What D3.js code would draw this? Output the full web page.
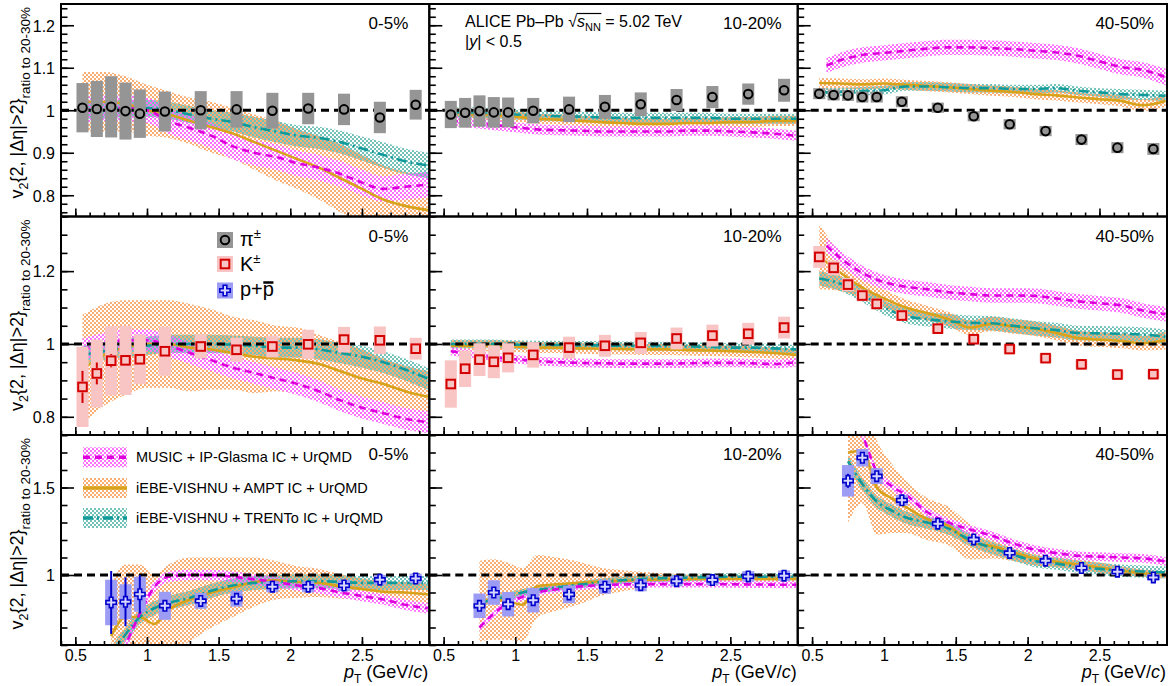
<!DOCTYPE html>
<html><head><meta charset="utf-8">
<script src="https://cdn.jsdelivr.net/npm/d3@7"></script>
<style>
body{margin:0;background:#fff}
text{font-family:"Liberation Sans",Arial,Helvetica,sans-serif;fill:#000}
</style>
</head><body>
<svg id="c" width="1173" height="686"></svg>
<script>
// ---------------- data ----------------
const centralities = ["0-5%", "10-20%", "40-50%"];
const xTickLabels = [0.5, 1, 1.5, 2, 2.5];
const yTickLabels = [[0.8, 0.9, 1, 1.1, 1.2], [0.8, 1, 1.2], [1, 1.5]];
const modelNames = ["MUSIC + IP-Glasma IC + UrQMD", "iEBE-VISHNU + AMPT IC + UrQMD", "iEBE-VISHNU + TRENTo IC + UrQMD"];

const ptBins  = [0.55, 0.65, 0.75, 0.85, 0.95, 1.125, 1.375, 1.625, 1.875, 2.125, 2.375, 2.625, 2.875];
const ptBinsP = [0.75, 0.85, 0.95, 1.125, 1.375, 1.625, 1.875, 2.125, 2.375, 2.625, 2.875];

// pions
const pi_05       = [1.006, 1.003, 1.008, 0.998, 0.992, 0.997, 1.0, 1.002, 0.999, 1.004, 1.002, 0.983, 1.013];
const pi_05_sys   = [0.058, 0.066, 0.072, 0.067, 0.057, 0.047, 0.045, 0.043, 0.042, 0.037, 0.037, 0.037, 0.035];
const pi_05_stat  = [0.003, 0.003, 0.003, 0.003, 0.003, 0.003, 0.003, 0.003, 0.003, 0.003, 0.004, 0.004, 0.005];
const pi_1020     = [0.99, 0.994, 0.998, 0.995, 0.995, 0.999, 1.002, 1.008, 1.014, 1.024, 1.031, 1.038, 1.047];
const pi_1020_sys = [0.032, 0.035, 0.037, 0.036, 0.035, 0.03, 0.03, 0.028, 0.028, 0.026, 0.026, 0.025, 0.027];
const pi_1020_stat= [0.002, 0.002, 0.002, 0.002, 0.002, 0.002, 0.002, 0.002, 0.002, 0.003, 0.003, 0.003, 0.004];
const pi_4050     = [1.039, 1.036, 1.035, 1.031, 1.031, 1.02, 1.006, 0.986, 0.967, 0.951, 0.931, 0.912, 0.909];
const pi_4050_sys = [0.013, 0.013, 0.013, 0.013, 0.013, 0.013, 0.012, 0.012, 0.012, 0.012, 0.013, 0.013, 0.014];
const pi_4050_stat= [0.002, 0.002, 0.002, 0.002, 0.002, 0.002, 0.002, 0.002, 0.002, 0.003, 0.003, 0.003, 0.004];

// kaons
const k_05        = [0.882, 0.919, 0.954, 0.955, 0.958, 0.98, 0.993, 0.984, 0.993, 0.999, 1.012, 1.01, 0.987];
const k_05_sys    = [0.11, 0.093, 0.095, 0.095, 0.068, 0.067, 0.033, 0.033, 0.03, 0.04, 0.035, 0.038, 0.03];
const k_05_stat   = [0.044, 0.03, 0.018, 0.015, 0.012, 0.008, 0.005, 0.005, 0.005, 0.005, 0.005, 0.006, 0.008];
const k_1020      = [0.89, 0.932, 0.957, 0.951, 0.962, 0.97, 0.99, 0.995, 1.003, 1.015, 1.023, 1.028, 1.045];
const k_1020_sys  = [0.065, 0.05, 0.045, 0.045, 0.04, 0.035, 0.03, 0.03, 0.03, 0.03, 0.03, 0.03, 0.03];
const k_1020_stat = [0.01, 0.008, 0.006, 0.005, 0.005, 0.004, 0.004, 0.004, 0.004, 0.004, 0.005, 0.005, 0.006];
const k_4050      = [1.239, 1.209, 1.163, 1.133, 1.11, 1.078, 1.042, 1.013, 0.986, 0.961, 0.944, 0.916, 0.917];
const k_4050_sys  = [0.03, 0.02, 0.018, 0.016, 0.015, 0.014, 0.013, 0.012, 0.012, 0.012, 0.012, 0.012, 0.012];
const k_4050_stat = [0.006, 0.005, 0.004, 0.004, 0.004, 0.003, 0.003, 0.003, 0.003, 0.003, 0.004, 0.004, 0.005];

// protons
const p_05        = [0.843, 0.847, 0.89, 0.824, 0.852, 0.864, 0.933, 0.933, 0.94, 0.973, 0.98];
const p_05_sys    = [0.13, 0.1, 0.1, 0.08, 0.045, 0.045, 0.032, 0.032, 0.032, 0.028, 0.028];
const p_05_stat   = [0.18, 0.14, 0.11, 0.025, 0.01, 0.01, 0.008, 0.008, 0.008, 0.008, 0.008];
const p_1020      = [0.824, 0.9, 0.833, 0.856, 0.889, 0.933, 0.942, 0.965, 0.971, 0.992, 0.996];
const p_1020_sys  = [0.07, 0.07, 0.07, 0.07, 0.05, 0.04, 0.035, 0.03, 0.03, 0.03, 0.03];
const p_1020_stat = [0.02, 0.015, 0.012, 0.01, 0.008, 0.006, 0.006, 0.006, 0.006, 0.006, 0.006];
const p_4050      = [1.538, 1.67, 1.565, 1.427, 1.293, 1.203, 1.126, 1.082, 1.04, 1.019, 0.986];
const p_4050_sys  = [0.09, 0.05, 0.045, 0.03, 0.025, 0.02, 0.02, 0.02, 0.02, 0.02, 0.02];
const p_4050_stat = [0.04, 0.012, 0.01, 0.008, 0.006, 0.006, 0.006, 0.006, 0.006, 0.006, 0.006];

// model pT grids
const gridHydro  = [0.55, 0.7, 0.85, 1.0, 1.15, 1.3, 1.45, 1.6, 1.75, 1.9, 2.05, 2.2, 2.35, 2.5, 2.65, 2.8, 2.96];
const gridMusic  = [0.6, 0.7, 0.85, 1.0, 1.15, 1.3, 1.45, 1.6, 1.75, 1.9, 2.05, 2.2, 2.35, 2.5, 2.65, 2.8, 2.96];
const gridProton = [0.75, 0.85, 0.95, 1.05, 1.15, 1.3, 1.45, 1.6, 1.75, 1.9, 2.05, 2.2, 2.35, 2.5, 2.65, 2.8, 2.96];

// pion models
const music_pi_05       = [1.0, 1.005, 1.005, 1.0, 0.975, 0.958, 0.94, 0.915, 0.9, 0.89, 0.875, 0.865, 0.85, 0.83, 0.815, 0.82, 0.825];
const music_pi_05_err   = [0.03, 0.03, 0.03, 0.03, 0.03, 0.03, 0.03, 0.03, 0.03, 0.03, 0.03, 0.03, 0.03, 0.03, 0.03, 0.03, 0.03];
const ampt_pi_05        = [1.02, 1.02, 1.015, 1.0, 0.99, 0.975, 0.96, 0.945, 0.925, 0.905, 0.885, 0.865, 0.84, 0.815, 0.79, 0.775, 0.765];
const ampt_pi_05_err    = [0.07, 0.07, 0.065, 0.06, 0.055, 0.055, 0.06, 0.06, 0.065, 0.07, 0.07, 0.075, 0.08, 0.08, 0.08, 0.08, 0.08];
const trento_pi_05      = [1.0, 1.0, 1.005, 1.005, 1.0, 0.99, 0.98, 0.972, 0.96, 0.95, 0.94, 0.935, 0.925, 0.91, 0.895, 0.88, 0.87];
const trento_pi_05_err  = [0.02, 0.02, 0.02, 0.02, 0.02, 0.02, 0.02, 0.022, 0.024, 0.025, 0.025, 0.026, 0.027, 0.028, 0.03, 0.03, 0.03];

const music_pi_1020     = [0.975, 0.97, 0.965, 0.96, 0.955, 0.953, 0.952, 0.95, 0.95, 0.95, 0.95, 0.952, 0.952, 0.95, 0.948, 0.945, 0.94];
const music_pi_1020_err = [0.012, 0.012, 0.012, 0.012, 0.012, 0.012, 0.012, 0.012, 0.012, 0.012, 0.012, 0.012, 0.012, 0.012, 0.012, 0.012, 0.012];
const ampt_pi_1020      = [0.995, 0.99, 0.988, 0.985, 0.98, 0.978, 0.975, 0.972, 0.97, 0.968, 0.968, 0.97, 0.97, 0.972, 0.972, 0.975, 0.975];
const ampt_pi_1020_err  = [0.012, 0.012, 0.012, 0.012, 0.012, 0.012, 0.012, 0.012, 0.012, 0.012, 0.012, 0.012, 0.012, 0.012, 0.012, 0.012, 0.012];
const trento_pi_1020    = [0.995, 0.995, 0.993, 0.99, 0.988, 0.986, 0.985, 0.983, 0.982, 0.982, 0.982, 0.982, 0.982, 0.98, 0.98, 0.98, 0.98];
const trento_pi_1020_err= [0.012, 0.012, 0.012, 0.012, 0.012, 0.012, 0.012, 0.012, 0.012, 0.012, 0.012, 0.012, 0.012, 0.012, 0.012, 0.012, 0.012];

const music_pi_4050     = [1.105, 1.118, 1.13, 1.135, 1.14, 1.145, 1.148, 1.148, 1.146, 1.144, 1.14, 1.136, 1.128, 1.115, 1.102, 1.095, 1.078];
const music_pi_4050_err = [0.018, 0.018, 0.018, 0.018, 0.018, 0.018, 0.018, 0.018, 0.018, 0.018, 0.018, 0.018, 0.018, 0.018, 0.018, 0.018, 0.02];
const ampt_pi_4050      = [1.064, 1.063, 1.061, 1.063, 1.06, 1.057, 1.054, 1.05, 1.046, 1.043, 1.038, 1.035, 1.03, 1.026, 1.022, 1.012, 1.022];
const ampt_pi_4050_err  = [0.012, 0.012, 0.012, 0.012, 0.012, 0.012, 0.012, 0.012, 0.012, 0.012, 0.012, 0.012, 0.012, 0.012, 0.013, 0.014, 0.014];
const trento_pi_4050    = [1.042, 1.043, 1.045, 1.047, 1.056, 1.056, 1.054, 1.052, 1.052, 1.05, 1.05, 1.052, 1.046, 1.042, 1.038, 1.036, 1.034];
const trento_pi_4050_err= [0.01, 0.01, 0.01, 0.01, 0.01, 0.01, 0.01, 0.01, 0.01, 0.01, 0.01, 0.01, 0.01, 0.01, 0.012, 0.012, 0.012];

// kaon models
const music_k_05        = [0.985, 1.0, 1.01, 1.01, 0.995, 0.975, 0.955, 0.935, 0.92, 0.905, 0.89, 0.87, 0.845, 0.825, 0.81, 0.795, 0.785];
const music_k_05_err    = [0.03, 0.03, 0.03, 0.03, 0.03, 0.03, 0.03, 0.03, 0.03, 0.03, 0.03, 0.03, 0.03, 0.03, 0.03, 0.03, 0.03];
const ampt_k_05         = [0.93, 0.97, 0.99, 1.0, 1.0, 0.99, 0.985, 0.975, 0.965, 0.96, 0.955, 0.945, 0.925, 0.905, 0.89, 0.87, 0.855];
const ampt_k_05_err     = [0.15, 0.14, 0.13, 0.12, 0.12, 0.12, 0.11, 0.1, 0.1, 0.09, 0.09, 0.08, 0.08, 0.08, 0.07, 0.07, 0.07];
const trento_k_05       = [0.97, 0.98, 0.99, 0.995, 1.0, 1.0, 1.0, 0.998, 0.995, 0.99, 0.99, 0.985, 0.975, 0.965, 0.95, 0.93, 0.905];
const trento_k_05_err   = [0.025, 0.025, 0.025, 0.025, 0.025, 0.025, 0.025, 0.025, 0.025, 0.027, 0.027, 0.028, 0.028, 0.03, 0.03, 0.03, 0.03];

const music_k_1020      = [0.98, 0.972, 0.963, 0.958, 0.953, 0.95, 0.948, 0.947, 0.946, 0.946, 0.946, 0.947, 0.948, 0.948, 0.947, 0.945, 0.95];
const music_k_1020_err  = [0.012, 0.012, 0.012, 0.012, 0.012, 0.012, 0.012, 0.012, 0.012, 0.012, 0.012, 0.012, 0.012, 0.012, 0.012, 0.012, 0.012];
const ampt_k_1020       = [0.995, 0.995, 0.995, 0.993, 0.99, 0.99, 0.988, 0.987, 0.986, 0.985, 0.985, 0.983, 0.982, 0.98, 0.978, 0.975, 0.97];
const ampt_k_1020_err   = [0.015, 0.015, 0.015, 0.015, 0.015, 0.015, 0.015, 0.015, 0.015, 0.015, 0.015, 0.015, 0.015, 0.015, 0.015, 0.015, 0.015];
const trento_k_1020     = [1.0, 1.0, 1.0, 0.998, 0.997, 0.997, 0.996, 0.996, 0.995, 0.995, 0.994, 0.993, 0.992, 0.99, 0.99, 0.988, 0.985];
const trento_k_1020_err = [0.012, 0.012, 0.012, 0.012, 0.012, 0.012, 0.012, 0.012, 0.012, 0.012, 0.012, 0.012, 0.012, 0.012, 0.012, 0.012, 0.012];

const music_k_4050      = [1.27, 1.235, 1.195, 1.17, 1.157, 1.15, 1.142, 1.137, 1.133, 1.133, 1.132, 1.125, 1.117, 1.112, 1.106, 1.092, 1.082];
const music_k_4050_err  = [0.02, 0.02, 0.02, 0.02, 0.02, 0.02, 0.02, 0.02, 0.02, 0.02, 0.02, 0.02, 0.02, 0.02, 0.02, 0.02, 0.02];
const ampt_k_4050       = [1.24, 1.195, 1.155, 1.125, 1.1, 1.085, 1.068, 1.045, 1.055, 1.048, 1.042, 1.03, 1.016, 1.012, 1.008, 1.002, 1.01];
const ampt_k_4050_err   = [0.09, 0.05, 0.03, 0.025, 0.022, 0.02, 0.02, 0.02, 0.02, 0.02, 0.02, 0.02, 0.02, 0.02, 0.02, 0.02, 0.025];
const trento_k_4050     = [1.18, 1.165, 1.135, 1.1, 1.077, 1.068, 1.062, 1.058, 1.057, 1.05, 1.043, 1.038, 1.03, 1.029, 1.028, 1.026, 1.02];
const trento_k_4050_err = [0.02, 0.02, 0.02, 0.02, 0.02, 0.02, 0.02, 0.02, 0.02, 0.02, 0.02, 0.02, 0.02, 0.02, 0.02, 0.02, 0.02];

// proton models
const music_p_05        = [0.45, 0.6, 0.78, 0.93, 0.99, 1.0, 1.0, 0.99, 0.975, 0.96, 0.94, 0.925, 0.9, 0.88, 0.86, 0.83, 0.81];
const music_p_05_err    = [0.03, 0.03, 0.03, 0.03, 0.03, 0.03, 0.03, 0.03, 0.03, 0.03, 0.03, 0.03, 0.03, 0.03, 0.03, 0.03, 0.03];
const ampt_p_05         = [0.65, 0.76, 0.76, 0.72, 0.8, 0.86, 0.9, 0.93, 0.96, 0.97, 0.96, 0.955, 0.935, 0.92, 0.905, 0.9, 0.89];
const ampt_p_05_err     = [0.3, 0.3, 0.3, 0.28, 0.26, 0.24, 0.2, 0.17, 0.14, 0.11, 0.09, 0.08, 0.07, 0.06, 0.06, 0.06, 0.06];
const trento_p_05       = [0.55, 0.66, 0.76, 0.81, 0.84, 0.87, 0.91, 0.94, 0.955, 0.96, 0.965, 0.965, 0.96, 0.955, 0.955, 0.955, 0.955];
const trento_p_05_err   = [0.04, 0.04, 0.04, 0.04, 0.04, 0.04, 0.04, 0.04, 0.04, 0.04, 0.04, 0.04, 0.04, 0.04, 0.04, 0.04, 0.04];

const music_p_1020      = [0.7, 0.78, 0.84, 0.875, 0.9, 0.92, 0.935, 0.942, 0.946, 0.948, 0.948, 0.948, 0.948, 0.947, 0.946, 0.945, 0.944];
const music_p_1020_err  = [0.02, 0.02, 0.02, 0.02, 0.02, 0.02, 0.02, 0.02, 0.02, 0.02, 0.02, 0.02, 0.02, 0.02, 0.02, 0.02, 0.02];
const ampt_p_1020       = [0.85, 0.86, 0.85, 0.83, 0.935, 0.948, 0.955, 0.962, 0.967, 0.972, 0.975, 0.977, 0.977, 0.977, 0.978, 0.978, 0.978];
const ampt_p_1020_err   = [0.23, 0.23, 0.22, 0.21, 0.18, 0.15, 0.12, 0.08, 0.06, 0.045, 0.035, 0.025, 0.02, 0.02, 0.02, 0.02, 0.02];
const trento_p_1020     = [0.84, 0.86, 0.88, 0.9, 0.915, 0.93, 0.945, 0.96, 0.97, 0.978, 0.982, 0.985, 0.988, 0.99, 0.99, 0.99, 0.99];
const trento_p_1020_err = [0.02, 0.02, 0.02, 0.02, 0.02, 0.02, 0.02, 0.02, 0.02, 0.02, 0.02, 0.02, 0.02, 0.02, 0.02, 0.02, 0.02];

const music_p_4050      = [1.95, 1.8, 1.59, 1.51, 1.46, 1.36, 1.3, 1.26, 1.225, 1.18, 1.145, 1.125, 1.11, 1.105, 1.1, 1.095, 1.078];
const music_p_4050_err  = [0.025, 0.025, 0.025, 0.025, 0.025, 0.025, 0.025, 0.025, 0.025, 0.025, 0.025, 0.025, 0.025, 0.025, 0.025, 0.025, 0.025];
const ampt_p_4050       = [1.7, 1.71, 1.5, 1.44, 1.39, 1.32, 1.28, 1.19, 1.165, 1.13, 1.095, 1.075, 1.06, 1.043, 1.025, 1.01, 1.0];
const ampt_p_4050_err   = [0.4, 0.3, 0.27, 0.2, 0.15, 0.12, 0.11, 0.1, 0.07, 0.05, 0.04, 0.03, 0.03, 0.03, 0.025, 0.02, 0.02];
const trento_p_4050     = [1.65, 1.52, 1.42, 1.37, 1.33, 1.3, 1.265, 1.2, 1.155, 1.115, 1.08, 1.065, 1.048, 1.035, 1.025, 1.02, 1.015];
const trento_p_4050_err = [0.035, 0.035, 0.035, 0.035, 0.035, 0.035, 0.035, 0.035, 0.035, 0.035, 0.035, 0.035, 0.035, 0.035, 0.035, 0.035, 0.035];

// ---------------- layout & style ----------------
const xDomain = [0.4, 2.97];
const yDomains = [[0.75, 1.25], [0.75, 1.35], [0.6, 1.8]];
const yMinorStep = [0.02, 0.05, 0.1];
const colEdges = [61, 429.3, 797.7, 1167];
const rowEdges = [4, 216.5, 435, 645];
const labelRightOff = [21, 16, 13];
const FONT = '"Liberation Sans",Arial,Helvetica,sans-serif';

const partStyle = {
  pi: {box: "#959595", stroke: "#000", marker: "circle"},
  K:  {box: "#f9c4c4", stroke: "#d40000", marker: "square"},
  p:  {box: "#9c9cf4", stroke: "#0000cc", marker: "cross"}
};
const modelStyle = [
  {band: "#ff70ff", line: "#dd00dd", dash: "7,5", pat: "patM", phase: 0},
  {band: "#f9ae74", line: "#d9a21b", dash: null, pat: "patA", phase: 0},
  {band: "#72c2ba", line: "#119a9a", dash: "10,4,2,4", pat: "patT", phase: 1}
];

function zip(x, y, e) { return x.map((v, i) => ({x: v, y: y[i], e: e ? e[i] : 0})); }

const dataSets = [
  [{part: "pi", x: ptBins, y: pi_05, sys: pi_05_sys, stat: pi_05_stat},
   {part: "pi", x: ptBins, y: pi_1020, sys: pi_1020_sys, stat: pi_1020_stat},
   {part: "pi", x: ptBins, y: pi_4050, sys: pi_4050_sys, stat: pi_4050_stat}],
  [{part: "K", x: ptBins, y: k_05, sys: k_05_sys, stat: k_05_stat},
   {part: "K", x: ptBins, y: k_1020, sys: k_1020_sys, stat: k_1020_stat},
   {part: "K", x: ptBins, y: k_4050, sys: k_4050_sys, stat: k_4050_stat}],
  [{part: "p", x: ptBinsP, y: p_05, sys: p_05_sys, stat: p_05_stat},
   {part: "p", x: ptBinsP, y: p_1020, sys: p_1020_sys, stat: p_1020_stat},
   {part: "p", x: ptBinsP, y: p_4050, sys: p_4050_sys, stat: p_4050_stat}]
];
// models: [MUSIC, AMPT, TRENTo]
const modelSets = [
  [[zip(gridHydro, music_pi_05, music_pi_05_err), zip(gridHydro, ampt_pi_05, ampt_pi_05_err), zip(gridHydro, trento_pi_05, trento_pi_05_err)],
   [zip(gridHydro, music_pi_1020, music_pi_1020_err), zip(gridHydro, ampt_pi_1020, ampt_pi_1020_err), zip(gridHydro, trento_pi_1020, trento_pi_1020_err)],
   [zip(gridMusic, music_pi_4050, music_pi_4050_err), zip(gridHydro, ampt_pi_4050, ampt_pi_4050_err), zip(gridHydro, trento_pi_4050, trento_pi_4050_err)]],
  [[zip(gridHydro, music_k_05, music_k_05_err), zip(gridHydro, ampt_k_05, ampt_k_05_err), zip(gridHydro, trento_k_05, trento_k_05_err)],
   [zip(gridHydro, music_k_1020, music_k_1020_err), zip(gridHydro, ampt_k_1020, ampt_k_1020_err), zip(gridHydro, trento_k_1020, trento_k_1020_err)],
   [zip(gridMusic, music_k_4050, music_k_4050_err), zip(gridHydro, ampt_k_4050, ampt_k_4050_err), zip(gridHydro, trento_k_4050, trento_k_4050_err)]],
  [[zip(gridProton, music_p_05, music_p_05_err), zip(gridProton, ampt_p_05, ampt_p_05_err), zip(gridProton, trento_p_05, trento_p_05_err)],
   [zip(gridProton, music_p_1020, music_p_1020_err), zip(gridProton, ampt_p_1020, ampt_p_1020_err), zip(gridProton, trento_p_1020, trento_p_1020_err)],
   [zip(gridProton, music_p_4050, music_p_4050_err), zip(gridProton, ampt_p_4050, ampt_p_4050_err), zip(gridProton, trento_p_4050, trento_p_4050_err)]]
];

// ---------------- drawing ----------------
const svg = d3.select("#c");
svg.append("rect").attr("width", 1173).attr("height", 686).attr("fill", "#fff");
const defs = svg.append("defs");

modelStyle.forEach(m => {
  const p = defs.append("pattern").attr("id", m.pat).attr("patternUnits", "userSpaceOnUse")
    .attr("width", 4).attr("height", 4);
  const o = m.phase ? 2 : 0;
  p.append("rect").attr("x", o).attr("y", 0).attr("width", 2).attr("height", 2).attr("fill", m.band);
  p.append("rect").attr("x", 2 - o).attr("y", 2).attr("width", 2).attr("height", 2).attr("fill", m.band);
});

function crossPath(a, t) {
  return `M${-t},${-a}L${t},${-a}L${t},${-t}L${a},${-t}L${a},${t}L${t},${t}L${t},${a}L${-t},${a}L${-t},${t}L${-a},${t}L${-a},${-t}L${-t},${-t}Z`;
}
function drawMarker(g, part, cx, cy) {
  const s = partStyle[part];
  if (s.marker === "circle") {
    g.append("circle").attr("cx", cx).attr("cy", cy).attr("r", 4.3)
      .attr("fill", "none").attr("stroke", s.stroke).attr("stroke-width", 2);
  } else if (s.marker === "square") {
    g.append("rect").attr("x", cx - 4.3).attr("y", cy - 4.3).attr("width", 8.6).attr("height", 8.6)
      .attr("fill", "none").attr("stroke", s.stroke).attr("stroke-width", 2);
  } else {
    g.append("path").attr("d", crossPath(5.2, 1.8)).attr("transform", `translate(${cx},${cy})`)
      .attr("fill", "#d6d6ff").attr("stroke", s.stroke).attr("stroke-width", 1.6);
  }
}

// rich text: sequence of pieces laid out left to right
function rich(parent, x, y, parts, anchor) {
  const g = parent.append("g");
  let cx = 0; const items = [];
  parts.forEach(p => {
    const t = g.append("text").attr("x", cx).attr("y", p.dy || 0)
      .attr("font-size", p.size).style("white-space", "pre")
      .attr("font-style", p.italic ? "italic" : null).text(p.t);
    const w = t.node().getComputedTextLength();
    items.push({x0: cx, x1: cx + w});
    cx += w;
  });
  const shift = anchor === "end" ? -cx : anchor === "middle" ? -cx / 2 : 0;
  g.attr("transform", `translate(${x + shift},${y})`);
  return {g, items, total: cx, left: x + shift};
}

const xMinor = d3.range(4, 30).map(i => i / 10);

for (let r = 0; r < 3; r++) {
  for (let c = 0; c < 3; c++) {
    const x0 = colEdges[c], x1 = colEdges[c + 1], y0 = rowEdges[r], y1 = rowEdges[r + 1];
    const xs = d3.scaleLinear().domain(xDomain).range([x0, x1]);
    const ys = d3.scaleLinear().domain(yDomains[r]).range([y1, y0]);
    const clipId = `clip${r}${c}`;
    defs.append("clipPath").attr("id", clipId).append("rect")
      .attr("x", x0).attr("y", y0).attr("width", x1 - x0).attr("height", y1 - y0);
    const pg = svg.append("g");
    const clipped = pg.append("g").attr("clip-path", `url(#${clipId})`);

    const models = modelSets[r][c];
    const area = d3.area().x(d => xs(d.x)).y0(d => ys(d.y - d.e)).y1(d => ys(d.y + d.e)).curve(d3.curveMonotoneX);
    const line = d3.line().x(d => xs(d.x)).y(d => ys(d.y)).curve(d3.curveMonotoneX);
    [1, 2, 0].forEach(mi => {
      clipped.append("path").datum(models[mi]).attr("d", area)
        .attr("fill", `url(#${modelStyle[mi].pat})`).attr("stroke", "none");
    });
    [1, 2, 0].forEach(mi => {
      clipped.append("path").datum(models[mi]).attr("d", line)
        .attr("fill", "none").attr("stroke", modelStyle[mi].line).attr("stroke-width", 2.6)
        .attr("stroke-dasharray", modelStyle[mi].dash);
    });

    // unity line
    pg.append("line").attr("x1", x0).attr("x2", x1).attr("y1", ys(1)).attr("y2", ys(1))
      .attr("stroke", "#000").attr("stroke-width", 3).attr("stroke-dasharray", "8,5");

    // data
    const ds = dataSets[r][c];
    const st = partStyle[ds.part];
    const dg = pg.append("g");
    ds.x.forEach((pt, i) => {
      dg.append("rect").attr("x", xs(pt - 0.042)).attr("width", xs(pt + 0.042) - xs(pt - 0.042))
        .attr("y", ys(ds.y[i] + ds.sys[i])).attr("height", ys(ds.y[i] - ds.sys[i]) - ys(ds.y[i] + ds.sys[i]))
        .attr("fill", st.box);
    });
    ds.x.forEach((pt, i) => {
      const cx = xs(pt), cy = ys(ds.y[i]);
      const top = ys(ds.y[i] + ds.stat[i]), bot = ys(ds.y[i] - ds.stat[i]);
      const rad = 5.5;
      if (cy - top > rad) {
        dg.append("line").attr("x1", cx).attr("x2", cx).attr("y1", top).attr("y2", cy - rad)
          .attr("stroke", st.stroke).attr("stroke-width", 2);
        dg.append("line").attr("x1", cx).attr("x2", cx).attr("y1", cy + rad).attr("y2", bot)
          .attr("stroke", st.stroke).attr("stroke-width", 2);
      }
      drawMarker(dg, ds.part, cx, cy);
    });

    // axes (ticks inside)
    const yl = yDomains[r];
    const step = yMinorStep[r];
    const yMinor = d3.range(Math.ceil(yl[0] / step - 1e-6), Math.floor(yl[1] / step + 1e-6) + 1).map(i => +(i * step).toFixed(3));
    const fmt = d3.format("~g");
    const gyMinor = pg.append("g").attr("transform", `translate(${x0},0)`)
      .call(d3.axisLeft(ys).tickValues(yMinor).tickSize(-6.5).tickFormat(""));
    const gyMajor = pg.append("g").attr("transform", `translate(${x0},0)`)
      .call(d3.axisLeft(ys).tickValues(yTickLabels[r]).tickSize(-13).tickPadding(6).tickFormat(c === 0 ? fmt : () => ""));
    const gxMinor = pg.append("g").attr("transform", `translate(0,${y1})`)
      .call(d3.axisBottom(xs).tickValues(xMinor).tickSize(-4).tickFormat(""));
    const gxMajor = pg.append("g").attr("transform", `translate(0,${y1})`)
      .call(d3.axisBottom(xs).tickValues(xTickLabels).tickSize(-8).tickPadding(5).tickFormat(r === 2 ? fmt : () => ""));
    [gyMinor, gyMajor, gxMinor, gxMajor].forEach(g => {
      g.select(".domain").remove();
      g.selectAll(".tick line").attr("stroke", "#000").attr("stroke-width", 1.6);
      g.selectAll(".tick text").attr("font-size", 16).attr("font-family", FONT).attr("fill", "#000");
    });
    gyMajor.selectAll(".tick text").attr("dy", "0.36em");

    // frame
    pg.append("rect").attr("x", x0).attr("y", y0).attr("width", x1 - x0).attr("height", y1 - y0)
      .attr("fill", "none").attr("stroke", "#000").attr("stroke-width", 2);

    // centrality label
    pg.append("text").attr("x", x1 - labelRightOff[c]).attr("y", y0 + 25).attr("text-anchor", "end")
      .attr("font-size", 17).text(centralities[c]);

    // x title
    if (r === 2) {
      rich(pg, x1 - 1, 678, [
        {t: "p", size: 18, italic: true},
        {t: "T", size: 12, dy: 5},
        {t: "\u00a0(GeV/", size: 18},
        {t: "c", size: 18, italic: true},
        {t: ")", size: 18}
      ], "end");
    }
  }
  // y title
  const tg = svg.append("g").attr("transform", `translate(23,${rowEdges[r] + 3}) rotate(-90)`);
  rich(tg, 0, 0, [
    {t: "v", size: 18},
    {t: "2", size: 12.5, dy: 5},
    {t: "{2, |\u0394\u03b7|>2}", size: 18},
    {t: "ratio to 20-30%", size: 13.5, dy: 6.5}
  ], "end");
}

// title
const t1 = rich(svg, 465, 27, [
  {t: "ALICE Pb\u2013Pb\u00a0", size: 16},
  {t: "\u221a", size: 16},
  {t: "s", size: 16, italic: true},
  {t: "NN", size: 11, dy: 4},
  {t: "\u00a0=\u00a05.02 TeV", size: 16}
], "start");
svg.append("line").attr("x1", t1.left + t1.items[1].x1 - 0.5).attr("x2", t1.left + t1.items[3].x1 + 0.5)
  .attr("y1", 27 - 13.5).attr("y2", 27 - 13.5).attr("stroke", "#000").attr("stroke-width", 1.2);
rich(svg, 465, 47, [
  {t: "|", size: 16}, {t: "y", size: 16, italic: true}, {t: "|\u00a0<\u00a00.5", size: 16}
], "start");

// particle legend (row 2, col 1)
const partLegend = [
  {part: "pi", cy: 240, base: 246, parts: [{t: "\u03c0", size: 20}, {t: "\u00b1", size: 13, dy: -8}]},
  {part: "K", cy: 264, base: 271, parts: [{t: "K", size: 20}, {t: "\u00b1", size: 13, dy: -8}]},
  {part: "p", cy: 290.5, base: 295.5, parts: [{t: "p+", size: 20}, {t: "p", size: 20}]}
];
partLegend.forEach(L => {
  svg.append("rect").attr("x", 217).attr("y", L.cy - 8).attr("width", 16).attr("height", 16)
    .attr("fill", partStyle[L.part].box);
  drawMarker(svg, L.part, 225, L.cy);
  const rt = rich(svg, 240, L.base, L.parts, "start");
  if (L.part === "p") {
    svg.append("line").attr("x1", rt.left + rt.items[1].x0 + 0.5).attr("x2", rt.left + rt.items[1].x1 - 0.5)
      .attr("y1", L.base - 13).attr("y2", L.base - 13).attr("stroke", "#000").attr("stroke-width", 2.5);
  }
});

// model legend (row 3, col 1)
const legendY = [457.3, 488, 518];
modelNames.forEach((name, i) => {
  const m = modelStyle[i];
  svg.append("rect").attr("x", 83).attr("y", legendY[i] - 10).attr("width", 44).attr("height", 20)
    .attr("fill", `url(#${m.pat})`);
  svg.append("line").attr("x1", 83).attr("x2", 127).attr("y1", legendY[i]).attr("y2", legendY[i])
    .attr("stroke", m.line).attr("stroke-width", 3.5).attr("stroke-dasharray", m.dash);
  svg.append("text").attr("x", 136).attr("y", legendY[i] + 5).attr("font-size", 14.5).text(name);
});
</script>
</body></html>
